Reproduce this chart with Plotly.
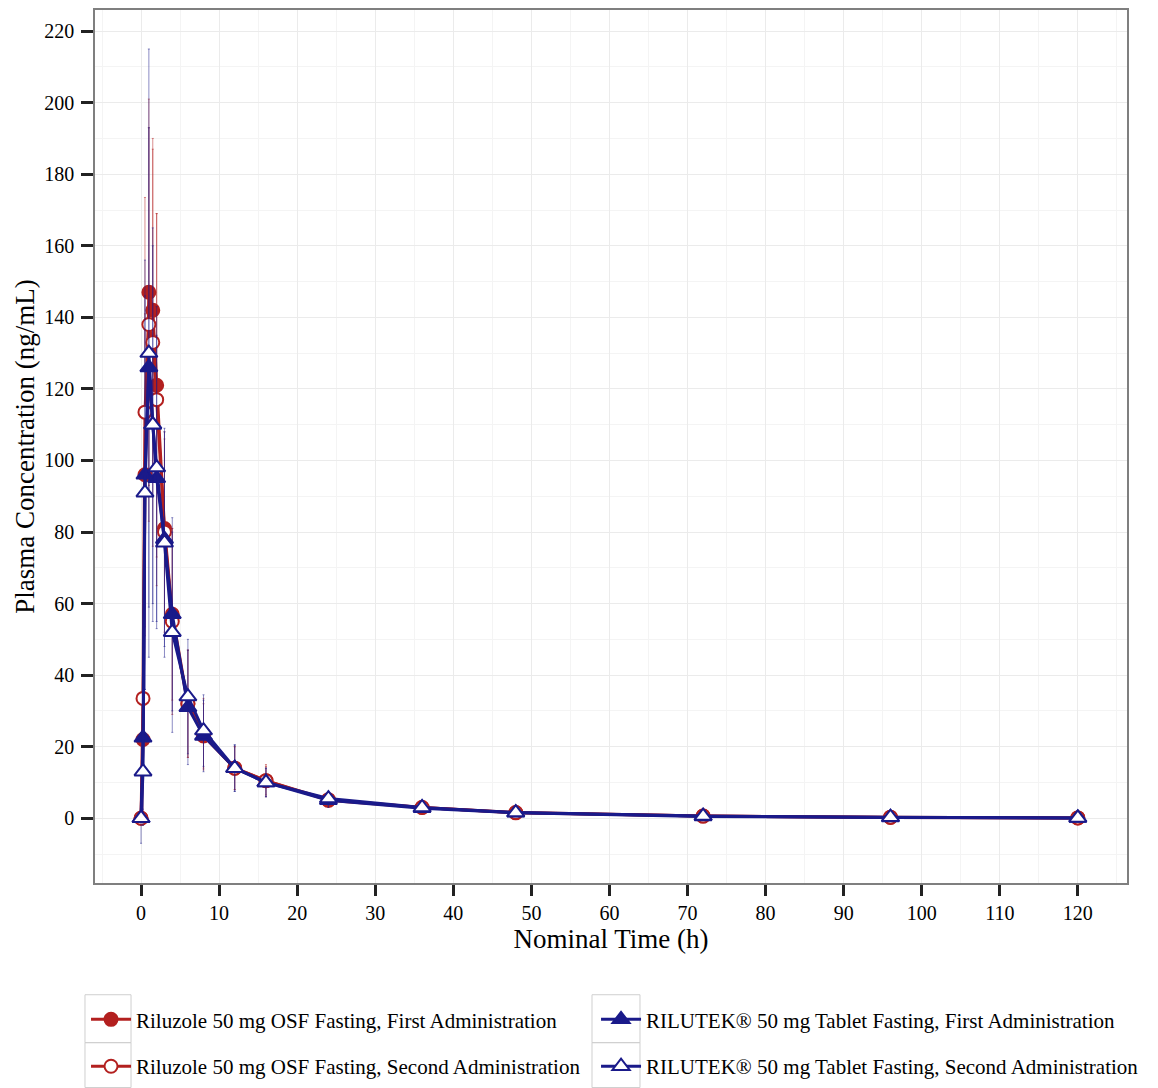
import plotly.graph_objects as go

time_h = [0, 0.25, 0.5, 1, 1.5, 2, 3, 4, 6, 8, 12, 16, 24, 36, 48, 72, 96, 120]

osf_first = [0, 22, 96, 147, 142, 121, 81, 57, 32, 23, 14, 10.5, 5, 3, 1.5, 0.6, 0.2, 0.1]
osf_first_sd = [0, 20, 45, 54, 45, 48, 25, 24, 15, 9, 6, 4, 2, 1, 0.7, 0.4, 0.2, 0.1]

osf_second = [0, 33.5, 113.5, 138, 133, 117, 80, 55, 32, 23.5, 14, 10.5, 5.2, 3, 1.6, 0.6, 0.3, 0.1]
osf_second_sd = [0, 25, 60, 55, 57, 52, 28, 26, 15, 10, 6, 4.5, 2, 1, 0.7, 0.4, 0.2, 0.1]

tab_first = [0, 22.5, 96, 126, 110, 95, 78, 57, 31, 23, 14, 10, 5, 2.8, 1.5, 0.5, 0.2, 0.1]
tab_first_sd = [0, 20, 60, 67, 50, 40, 30, 27, 16, 10, 6.5, 4, 2, 1, 0.6, 0.3, 0.2, 0.1]

tab_second = [0, 13, 91, 130, 110, 98, 77, 52, 34, 24.5, 14, 10, 5.5, 3, 1.6, 0.6, 0.3, 0.1]
tab_second_sd = [7, 15, 55, 85, 55, 45, 32, 28, 16, 10, 6.5, 4, 2, 1, 0.7, 0.4, 0.2, 0.1]

names = [
    "Riluzole 50 mg OSF Fasting, First Administration",
    "Riluzole 50 mg OSF Fasting, Second Administration",
    "RILUTEK® 50 mg Tablet Fasting, First Administration",
    "RILUTEK® 50 mg Tablet Fasting, Second Administration",
]

RED = "#b3201f"
BLUE = "#1a1a8a"
SERIF = "Liberation Serif, Times New Roman, serif"

series = [
    (osf_first, osf_first_sd, names[0], RED, "circle", 13, RED, "rgba(179,32,31,0.5)", "legend"),
    (osf_second, osf_second_sd, names[1], RED, "circle", 13, "white", "rgba(179,32,31,0.5)", "legend2"),
    (tab_first, tab_first_sd, names[2], BLUE, "triangle-up", 15, BLUE, "rgba(26,26,138,0.5)", "legend3"),
    (tab_second, tab_second_sd, names[3], BLUE, "triangle-up", 15, "white", "rgba(26,26,138,0.5)", "legend4"),
]

fig = go.Figure()
for y, sd, name, col, sym, msize, fill, ecol, leg in series:
    fig.add_trace(go.Scatter(
        x=time_h, y=y, name=name, mode="lines+markers",
        line=dict(color=col, width=3),
        marker=dict(symbol=sym, size=msize, color=fill, line=dict(color=col, width=2)),
        error_y=dict(type="data", array=sd, visible=True, color=ecol, thickness=1, width=1),
        legend=leg,
    ))

# legend key boxes (decoration, paper coordinates)
box_x = [(-0.0097, 0.0349), (0.4816, 0.5281)]
box_y = [(-0.1829, -0.128), (-0.2343, -0.1829)]
for x0, x1 in box_x:
    for y0, y1 in box_y:
        fig.add_shape(type="rect", xref="paper", yref="paper", x0=x0, x1=x1, y0=y0, y1=y1,
                      line=dict(color="#cfcfcf", width=1), fillcolor="rgba(0,0,0,0)", layer="below")

leg_common = dict(
    orientation="v", xanchor="left", yanchor="middle", itemwidth=40,
    font=dict(size=21, family=SERIF, color="black"),
    bgcolor="rgba(0,0,0,0)",
)
col1_x, col2_x = -0.0087, 0.4855
row1_y, row2_y = -0.1566, -0.2103

fig.update_layout(
    width=1158, height=1088,
    margin=dict(l=87, r=39, t=0, b=213),
    paper_bgcolor="white", plot_bgcolor="white",
    font=dict(family=SERIF, color="black", size=20),
    xaxis=dict(
        range=[-5.9, 126.3], dtick=10, tick0=0,
        showgrid=True, gridcolor="#ebebeb", gridwidth=1,
        minor=dict(dtick=5, showgrid=True, gridcolor="#f4f4f4"),
        ticks="outside", ticklen=11, tickwidth=2.5, tickcolor="#222222",
        showline=True, linecolor="#7f7f7f", linewidth=1.5, mirror=True,
        zeroline=False,
        title=dict(text="Nominal Time (h)", font=dict(size=27), standoff=2),
        tickfont=dict(size=20),
    ),
    yaxis=dict(
        range=[-18.1, 225.9], dtick=20, tick0=0,
        showgrid=True, gridcolor="#ebebeb", gridwidth=1,
        minor=dict(dtick=10, showgrid=True, gridcolor="#f4f4f4"),
        ticks="outside", ticklen=12, tickwidth=2.5, tickcolor="#222222",
        showline=True, linecolor="#7f7f7f", linewidth=1.5, mirror=True,
        zeroline=False, ticklabelstandoff=3,
        title=dict(text="Plasma Concentration (ng/mL)", font=dict(size=27), standoff=2),
        tickfont=dict(size=20),
    ),
    legend=dict(x=col1_x, y=row1_y, **leg_common),
    legend2=dict(x=col1_x, y=row2_y, **leg_common),
    legend3=dict(x=col2_x, y=row1_y, **leg_common),
    legend4=dict(x=col2_x, y=row2_y, **leg_common),
    showlegend=True,
)

fig.write_html("out.html")
